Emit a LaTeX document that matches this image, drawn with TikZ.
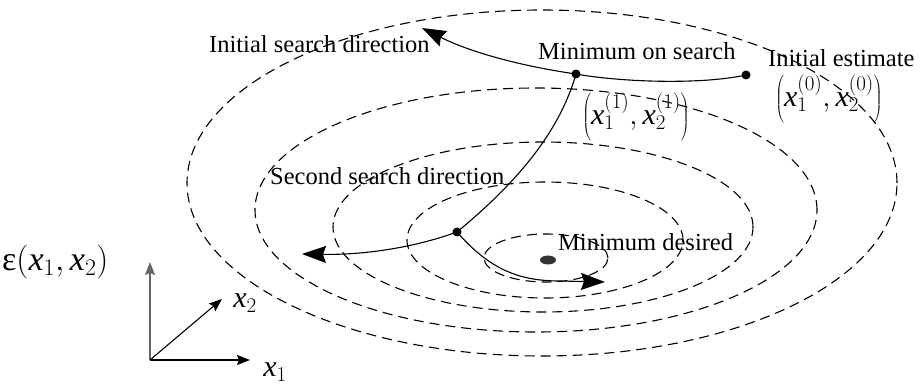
\RequirePackage{fix-cm}
\documentclass[tikz,border=0pt]{standalone}
\usepackage{fontspec}
\setmainfont{Liberation Serif}
\usetikzlibrary{arrows.meta,shapes.geometric}
\newcommand{\xv}{\mbox{\itshape x}}
\begin{document}
\begin{tikzpicture}[x=1pt,y=-1pt,
  contour/.style={draw=black,line width=1.1pt,dash pattern=on 10pt off 6pt},
  searchpath/.style={draw=black,line width=1.1pt,-{Stealth[length=24pt,width=17pt,inset=3pt]}},
  axisarrow/.style={line width=1.1pt,-{Stealth[length=13pt,width=10pt,inset=2pt]}},
  dot/.style={circle,fill=black,inner sep=0pt,minimum size=9pt},
  label/.style={inner sep=0pt,font=\fontsize{24.5}{29}\selectfont},
  mlabel/.style={inner sep=0pt,font=\fontsize{30}{36}\selectfont},
]
\useasboundingbox (0,0) rectangle (921,385);
% contours
\draw[contour] (542,183) ellipse [x radius=355pt, y radius=173pt];
\draw[contour] (536,210) ellipse [x radius=281pt, y radius=122pt];
\draw[contour] (543,227) ellipse [x radius=210pt, y radius=85pt];
\draw[contour] (545,240) ellipse [x radius=138pt, y radius=58pt];
\draw[contour] (546,258) ellipse [x radius=62pt, y radius=24pt];
% points
\node[dot] (est) at (746,75) {};
\node[dot] (mos) at (576,74) {};
\node[dot] (sec) at (457,232) {};
\node[ellipse,fill=black!80,inner sep=0pt,minimum width=16pt,minimum height=9pt] (mind) at (548,260) {};
\coordinate (tipA) at (422,28);
\coordinate (tipB) at (302,254);
\coordinate (tipC) at (605,282);
% search paths
\draw[searchpath] (est.center) .. controls (700,85) and (620,82) .. (mos.center)
   .. controls (520,66) and (470,52) .. (tipA);
\draw[line width=1.1pt] (mos.center) .. controls (560,130) and (520,180) .. (sec.center);
\draw[searchpath] (sec.center) .. controls (410,249) and (360,255) .. (tipB);
\draw[searchpath] (sec.center) .. controls (490,270) and (520,281) .. (560,281) -- (tipC);
% labels
\node[label,anchor=base west] (lInit) at (209,53) {Initial search direction};
\node[label,anchor=base west] (lMos) at (538,60) {Minimum on search};
\node[label,anchor=base west] (lEst) at (768,67) {Initial estimate};
\node[mlabel] (lX0) at (829,99) {$\left(\xv_1^{(0)},\xv_2^{(0)}\right)$};
\node[mlabel] (lX1) at (636,117) {$\left(\xv_1^{(1)},\xv_2^{(1)}\right)$};
\node[label,anchor=base west] (lSec) at (270,185) {Second search direction};
\node[label,anchor=base west] (lMin) at (558,250) {Minimum desired};
\node[mlabel,anchor=west,font=\fontsize{34}{40}\selectfont] (lEps) at (2,262) {ε$\left(\xv_1,\xv_2\right)$};
% axes
\coordinate (o) at (150,360);
\coordinate (ay) at (150,262);
\coordinate (ax) at (250,360);
\coordinate (ad) at (222,299);
\draw[axisarrow,draw=black!60] (o) -- (ay);
\draw[axisarrow] (o) -- (ax);
\draw[axisarrow] (o) -- (ad);
\node[mlabel] (lx2) at (245,303) {$\xv_2$};
\node[mlabel] (lx1) at (275,372) {$\xv_1$};
\end{tikzpicture}
\end{document}
